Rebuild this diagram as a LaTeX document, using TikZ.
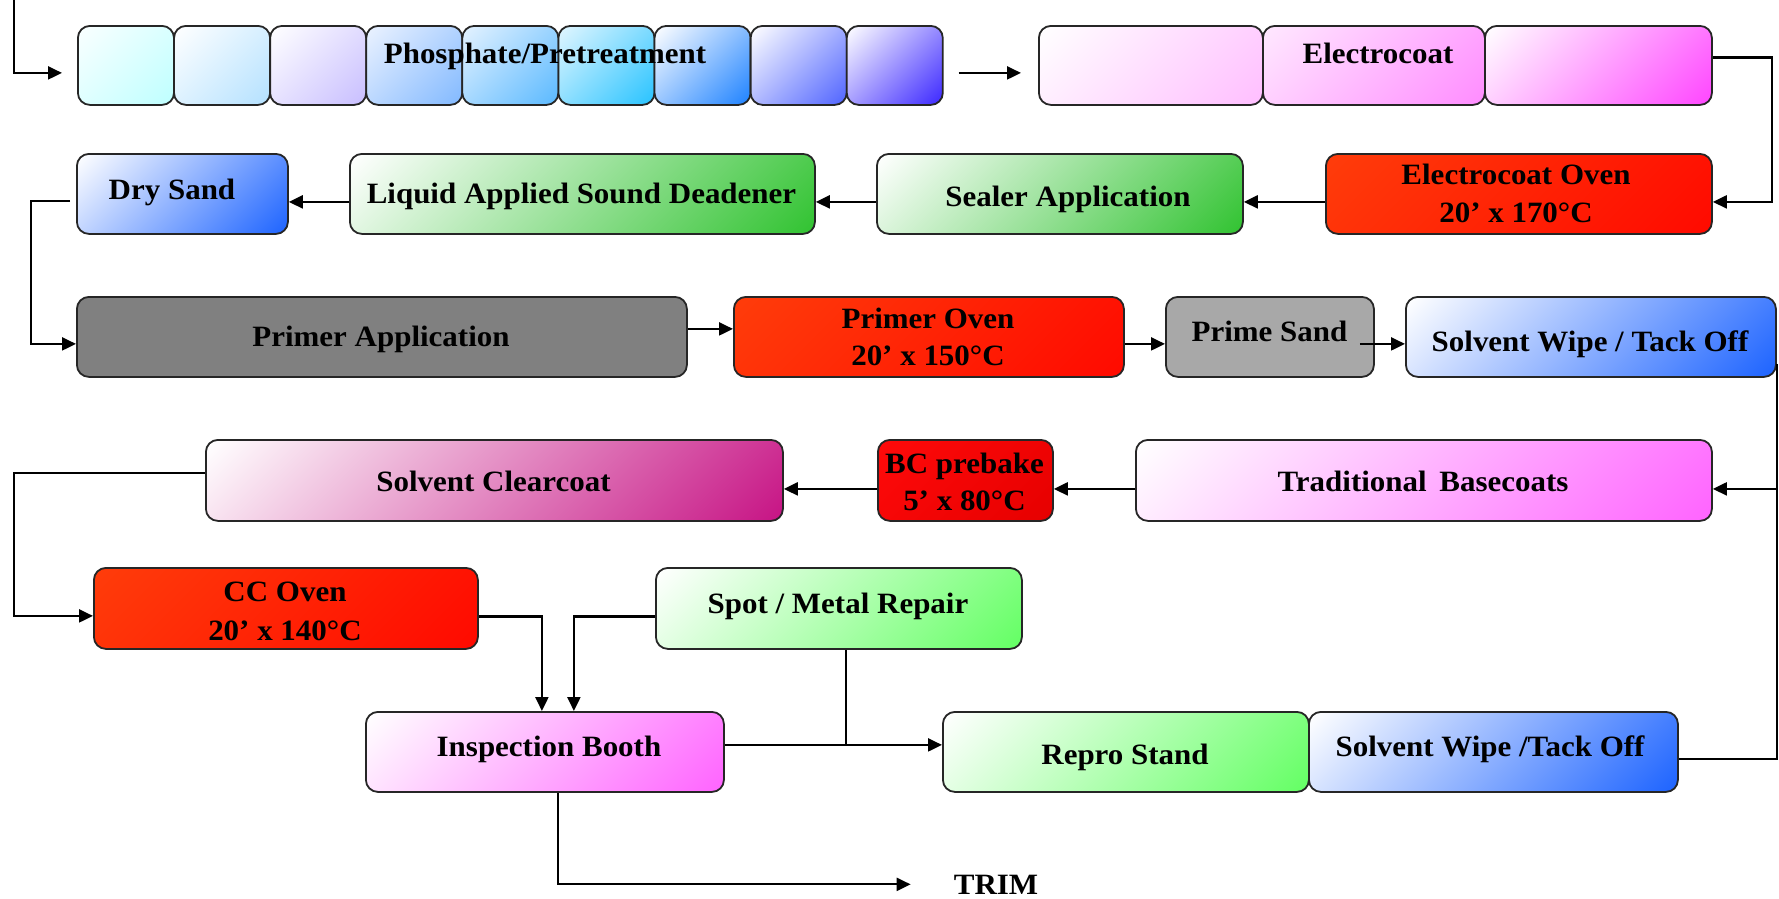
\documentclass[tikz,border=0pt]{standalone}
\usepackage{fontspec}
\setmainfont{Liberation Serif}[FakeStretch=1.05]
\usetikzlibrary{arrows.meta,calc}
\definecolor{pcA1}{RGB}{250,255,255}\definecolor{pcB1}{RGB}{190,255,255}
\definecolor{pcA2}{RGB}{255,255,255}\definecolor{pcB2}{RGB}{180,225,255}
\definecolor{pcA3}{RGB}{255,255,255}\definecolor{pcB3}{RGB}{200,190,255}
\definecolor{pcA4}{RGB}{235,242,255}\definecolor{pcB4}{RGB}{130,185,255}
\definecolor{pcA5}{RGB}{228,242,255}\definecolor{pcB5}{RGB}{90,185,255}
\definecolor{pcA6}{RGB}{225,246,255}\definecolor{pcB6}{RGB}{40,195,255}
\definecolor{pcA7}{RGB}{255,255,255}\definecolor{pcB7}{RGB}{30,130,255}
\definecolor{pcA8}{RGB}{255,255,255}\definecolor{pcB8}{RGB}{80,100,255}
\definecolor{pcA9}{RGB}{255,255,255}\definecolor{pcB9}{RGB}{60,40,255}
\definecolor{ecA}{RGB}{255,232,255}
\definecolor{ec1}{RGB}{255,190,255}
\definecolor{ec2}{RGB}{255,140,255}
\definecolor{ec3}{RGB}{255,70,255}
\definecolor{ovA}{RGB}{255,60,10}
\definecolor{ovB}{RGB}{255,10,0}
\definecolor{bcA}{RGB}{255,10,10}
\definecolor{bcB}{RGB}{230,0,0}
\definecolor{grn}{RGB}{50,195,50}
\definecolor{lgrn}{RGB}{100,255,100}
\definecolor{blu}{RGB}{30,100,255}
\definecolor{mag}{RGB}{255,100,255}
\definecolor{vio}{RGB}{199,21,133}
\definecolor{gA}{RGB}{128,128,128}
\definecolor{gB}{RGB}{168,168,168}
\colorlet{dgA}{white}
\colorlet{dgB}{black}
\pgfdeclareverticalshading[dgA,dgB]{diagfill}{100bp}{color(0bp)=(dgB); color(15bp)=(dgB); color(85bp)=(dgA); color(100bp)=(dgA)}
\begin{document}
\begin{tikzpicture}[x=1pt,y=-1pt,
  box/.style={draw=black!85, line width=1.8pt, rounded corners=12pt, inner sep=0pt, anchor=north west},
  g/.style 2 args={/utils/exec={\colorlet{dgA}{#1}\colorlet{dgB}{#2}}, shade, shading=diagfill, shading angle=45},
  lbl/.style={inner sep=0pt, anchor=base, font=\bfseries\fontsize{29.5}{37}\selectfont},
  ln/.style={line width=2.2pt},
  arr/.style={ln, -{Triangle[length=14pt,width=13pt]}}]
\path[use as bounding box, fill=white] (0,0) rectangle (1779,898);

% row 1
\foreach \i in {1,...,9}
  \node[box, g={pcA\i}{pcB\i}, minimum width=96.1pt, minimum height=79pt] (p\i) at ({77+96.1*(\i-1)},25) {};
\node[box, g={white}{ec1}, minimum width=224pt, minimum height=79pt] (e1) at (1038,25) {};
\node[box, g={ecA}{ec2}, minimum width=222pt, minimum height=79pt] (e2) at (1262,25) {};
\node[box, g={white}{ec3}, minimum width=227pt, minimum height=79pt] (e3) at (1484,25) {};

% row 2
\node[box, g={ovA}{ovB}, minimum width=386pt, minimum height=80pt] (eo) at (1325,153) {};
\node[box, g={white}{grn}, minimum width=366pt, minimum height=80pt] (sa) at (876,153) {};
\node[box, g={white}{grn}, minimum width=465pt, minimum height=80pt] (lasd) at (349,153) {};
\node[box, g={white}{blu}, minimum width=211pt, minimum height=80pt] (ds) at (76,153) {};

% row 3
\node[box, fill=gA, minimum width=610pt, minimum height=80pt] (pa) at (76,296) {};
\node[box, g={ovA}{ovB}, minimum width=390pt, minimum height=80pt] (po) at (733,296) {};
\node[box, fill=gB, minimum width=208pt, minimum height=80pt] (ps) at (1165,296) {};
\node[box, g={white}{blu}, minimum width=370pt, minimum height=80pt] (sw) at (1405,296) {};

% row 4
\node[box, g={white}{mag}, minimum width=576pt, minimum height=81pt] (tb) at (1135,439) {};
\node[box, g={bcA}{bcB}, minimum width=175pt, minimum height=81pt] (bc) at (877,439) {};
\node[box, g={white}{vio}, minimum width=577pt, minimum height=81pt] (sc) at (205,439) {};

% row 5
\node[box, g={ovA}{ovB}, minimum width=384pt, minimum height=81pt] (cc) at (93,567) {};
\node[box, g={white}{lgrn}, minimum width=366pt, minimum height=81pt] (smr) at (655,567) {};

% row 6
\node[box, g={white}{mag}, minimum width=358pt, minimum height=80pt] (ib) at (365,711) {};
\node[box, g={white}{lgrn}, minimum width=366pt, minimum height=80pt] (rs) at (942,711) {};
\node[box, g={white}{blu}, minimum width=369pt, minimum height=80pt] (sw2) at (1308,711) {};

% labels
\node[lbl] (t-p) at (545,63.5) {Phosphate/Pretreatment};
\node[lbl] (t-e) at (1378,63) {Electrocoat};
\node[lbl] (t-eo1) at (1516,184.7) {Electrocoat Oven};
\node[lbl] (t-eo2) at (1516,222) {20’ x 170°C};
\node[lbl] (t-sa) at (1068,206) {Sealer Application};
\node[lbl] (t-lasd) at (581.5,203) {Liquid Applied Sound Deadener};
\node[lbl] (t-ds) at (172,199) {Dry Sand};
\node[lbl] (t-pa) at (381,346) {Primer Application};
\node[lbl] (t-po1) at (928,328) {Primer Oven};
\node[lbl] (t-po2) at (928,365) {20’ x 150°C};
\node[lbl] (t-ps) at (1269.5,341.7) {Prime Sand};
\node[lbl] (t-sw) at (1590,351) {Solvent Wipe / Tack Off};
\node[lbl] (t-tb) at (1423,491) {Traditional\, Basecoats};
\node[lbl] (t-bc1) at (964.5,473) {BC prebake};
\node[lbl] (t-bc2) at (964.5,510) {5’ x 80°C};
\node[lbl] (t-sc) at (493.5,491) {Solvent Clearcoat};
\node[lbl] (t-cc1) at (285,601) {CC Oven};
\node[lbl] (t-cc2) at (285,640) {20’ x 140°C};
\node[lbl] (t-smr) at (838,613) {Spot / Metal Repair};
\node[lbl] (t-ib) at (549,756) {Inspection Booth};
\node[lbl] (t-rs) at (1125,764) {Repro Stand};
\node[lbl] (t-sw2) at (1490,756) {Solvent Wipe /Tack Off};
\node[lbl] (trim) at (996,894) {TRIM};

% connectors
\coordinate (in0) at (14,0);
\draw[arr] (in0) |- ([xshift=-15pt,yshift=-7.5pt]p1.west);
\draw[arr] ([xshift=15pt,yshift=-7.5pt]p9.east) -- ([xshift=-17pt,yshift=-7.5pt]e1.west);
\draw[arr] ([yshift=8pt]e3.east) -- ++(59,0) |- ([yshift=-8pt]eo.east);
\draw[arr] ([yshift=-8pt]eo.west) -- ([yshift=-8pt]sa.east);
\draw[arr] ([yshift=-8pt]sa.west) -- ([yshift=-8pt]lasd.east);
\draw[arr] ([yshift=-8pt]lasd.west) -- ([yshift=-8pt]ds.east);
\draw[arr] ([xshift=-6pt,yshift=-7pt]ds.west) -- ++(-39,0) |- ([yshift=-7pt]pa.west);
\draw[arr] ([yshift=8pt]pa.east) -- ([yshift=8pt]po.west);
\draw[arr] ([yshift=-7pt]po.east) -- ([yshift=-7pt]ps.west);
\draw[arr] ([xshift=-15pt,yshift=-7pt]ps.east) -- ([yshift=-7pt]sw.west);
\draw[arr] ([yshift=14pt]sw.south east) |- ([yshift=-8.5pt]tb.east);
\draw[ln] ([yshift=-7pt]sw2.east) -| (sw.south east);
\draw[arr] ([yshift=-8.5pt]tb.west) -- ([yshift=-8.5pt]bc.east);
\draw[arr] ([yshift=-8.5pt]bc.west) -- ([yshift=-8.5pt]sc.east);
\draw[arr] ([yshift=7.5pt]sc.west) -- ++(-191,0) |- ([yshift=-7.5pt]cc.west);
\draw[arr] ([yshift=-8pt]cc.east) -| ([xshift=-3pt]ib.north);
\draw[arr] ([yshift=-8pt]smr.west) -| ([xshift=29pt]ib.north);
\draw[arr] ([yshift=7pt]ib.east) -- ([yshift=7pt]rs.west);
\draw[ln] ([xshift=7pt]smr.south) |- ([yshift=7pt]ib.east);
\draw[arr] ([xshift=13pt]ib.south) |- ([xshift=-43pt]trim.west);
\end{tikzpicture}
\end{document}
